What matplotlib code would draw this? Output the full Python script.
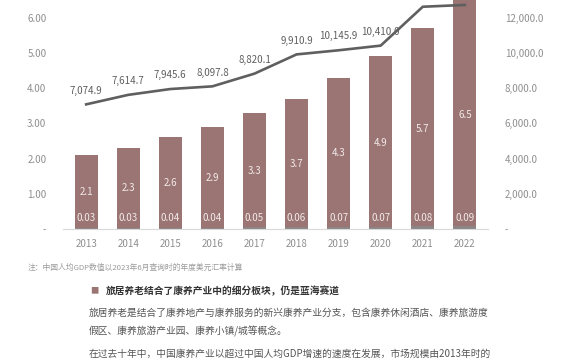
import matplotlib
matplotlib.use("Agg")
import matplotlib.pyplot as plt
import numpy as np

plt.rcParams['font.family'] = ['Noto Sans CJK SC', 'DejaVu Sans']

# data
years = ['2013', '2014', '2015', '2016', '2017', '2018', '2019', '2020', '2021', '2022']
small_part = [0.03, 0.03, 0.04, 0.04, 0.05, 0.06, 0.07, 0.07, 0.08, 0.09]
main_part = [2.1, 2.3, 2.6, 2.9, 3.3, 3.7, 4.3, 4.9, 5.7, 6.5]
gdp_pc = [7074.9, 7614.7, 7945.6, 8097.8, 8820.1, 9910.9, 10145.9, 10410.0, 12617.5, 12720.2]
gdp_labels_shown = 8  # last two labels fall outside the crop

left_ticks = [0, 1, 2, 3, 4, 5, 6]
left_ticklabels = ['-', '1.00', '2.00', '3.00', '4.00', '5.00', '6.00']
right_ticks = [0, 2000, 4000, 6000, 8000, 10000, 12000]
right_ticklabels = ['-', '2,000.0', '4,000.0', '6,000.0', '8,000.0', '10,000.0', '12,000.0']

note = '注：中国人均GDP数值以2023年6月查询时的年度美元汇率计算'
heading = '旅居养老结合了康养产业中的细分板块，仍是蓝海赛道'
para_lines = [
    '旅居养老是结合了康养地产与康养服务的新兴康养产业分支，包含康养休闲酒店、康养旅游度',
    '假区、康养旅游产业园、康养小镇/城等概念。',
    '在过去十年中，中国康养产业以超过中国人均GDP增速的速度在发展，市场规模由2013年时的',
]

bar_color = '#9b7573'
base_color = '#8c8585'
line_color = '#5f5f5f'
tick_color = '#8f8f8f'

fig = plt.figure(figsize=(5.7, 3.6), dpi=100)
W, H = 570, 360
ax = fig.add_axes([63 / W, (H - 229) / H, (488 - 63) / W, 229 / H])
ax2 = ax.twinx()

x = np.arange(len(years))
main_total = [m - s for m, s in zip(main_part, small_part)]
ax.bar(x, small_part, width=0.55, color=base_color, zorder=2)
ax.bar(x, main_total, bottom=small_part, width=0.55, color=bar_color, zorder=2)

for i in range(len(years)):
    ax.text(x[i], main_part[i] / 2, f'{main_part[i]:.1f}', ha='center', va='center',
            fontsize=7, color='#f2eaea', zorder=3)
    ax.text(x[i], 0.3, f'{small_part[i]:.2f}', ha='center', va='center',
            fontsize=7, color='#f2eaea', zorder=3)

ax.set_ylim(0, 6.5)
ax.set_xlim(-0.55, len(years) - 0.45)
ax.set_yticks(left_ticks)
ax.set_yticklabels(left_ticklabels)
ax.set_xticks(x)
ax.set_xticklabels(years)

ax2.plot(x, gdp_pc, color=line_color, lw=1.9, zorder=4, clip_on=False)
ax2.set_ylim(0, 13000)
ax2.set_yticks(right_ticks)
ax2.set_yticklabels(right_ticklabels)
for i in range(gdp_labels_shown):
    ax2.text(x[i], gdp_pc[i] + 500, f'{gdp_pc[i]:,.1f}', ha='center', va='bottom',
             fontsize=7, color=line_color)

for a in (ax, ax2):
    for s in a.spines.values():
        s.set_visible(False)
    a.tick_params(length=0, labelsize=7, colors=tick_color)
ax.spines['bottom'].set_visible(True)
ax.spines['bottom'].set_color('#d9d9d9')
ax.tick_params(axis='y', pad=12)
ax.tick_params(axis='x', pad=7)
ax2.tick_params(axis='y', pad=12)

# text below the chart
fig.text(28 / W, 1 - 268 / H, note, fontsize=5.6, color='#9a9a9a', va='center', style='italic')
fig.text(90 / W, 1 - 291 / H, '■', fontsize=6, color=bar_color, va='center')
fig.text(106 / W, 1 - 291 / H, heading, fontsize=7, color='#333333', va='center', weight='bold')
for yy, line in zip([313, 331, 354], para_lines):
    fig.text(89 / W, 1 - yy / H, line, fontsize=7, color='#555555', va='center')

fig.savefig('out.png', dpi=100)
